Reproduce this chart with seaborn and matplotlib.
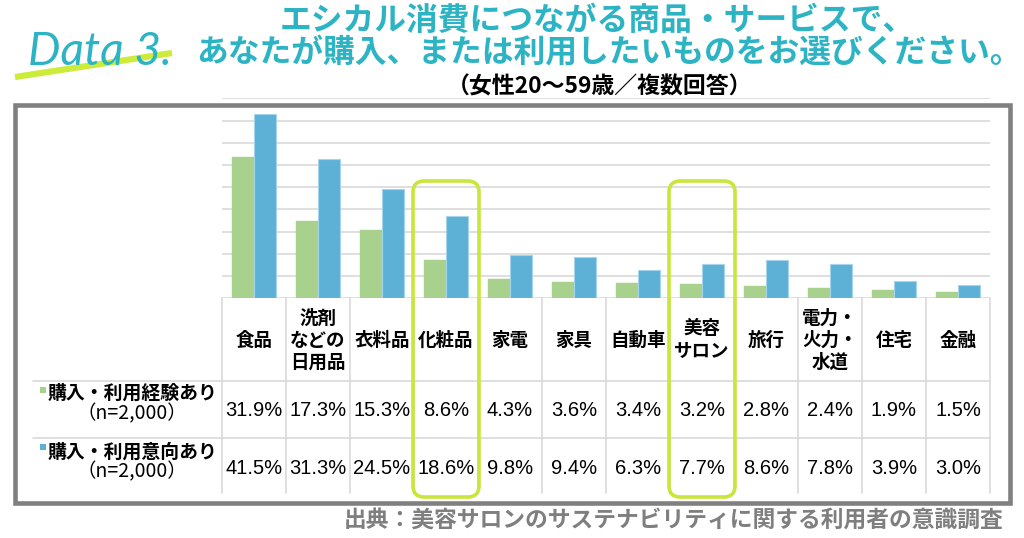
import numpy as np
import pandas as pd
import matplotlib
matplotlib.use("Agg")
import matplotlib.pyplot as plt
import matplotlib.transforms as mtransforms
from matplotlib.lines import Line2D
from matplotlib.patches import Rectangle, FancyBboxPatch
import seaborn as sns

# ---------------- data ----------------
categories = ['食品', '洗剤\nなどの\n日用品', '衣料品', '化粧品', '家電', '家具', '自動車',
              '美容\nサロン', '旅行', '電力・\n火力・\n水道', '住宅', '金融']
experience = [31.9, 17.3, 15.3, 8.6, 4.3, 3.6, 3.4, 3.2, 2.8, 2.4, 1.9, 1.5]
intention = [41.5, 31.3, 24.5, 18.6, 9.8, 9.4, 6.3, 7.7, 8.6, 7.8, 3.9, 3.0]
series_names = ['購入・利用経験あり', '購入・利用意向あり']
sample_label = '（n=2,000）'
highlighted = ['化粧品', '美容\nサロン']
title_lines = ['エシカル消費につながる商品・サービスで、',
               'あなたが購入、または利用したいものをお選びください。']
subtitle = '（女性20～59歳／複数回答）'
badge = 'Data 3.'
source = '出典：美容サロンのサステナビリティに関する利用者の意識調査'

GREEN = '#A9D18E'
BLUE = '#5DB1D7'
TEAL = '#2DB4C4'
LIME = '#C8E63C'
GRID = '#D9D9D9'

sns.set_theme(style='white')
plt.rcParams['font.family'] = ['Noto Sans CJK JP', 'DejaVu Sans']

W, H = 1024, 538
fig = plt.figure(figsize=(W / 100, H / 100), dpi=100)
fig.patch.set_facecolor('white')


def fx(px):
    return px / W


def fy(py):
    return 1 - py / H


# axes: 0% at y=298.3px, 45% at y=98.4px
ax = fig.add_axes([fx(222), fy(298.3), fx(990) - fx(222), fy(98.4) - fy(298.3)])

df = pd.DataFrame({
    'category': categories * 2,
    'value': experience + intention,
    'series': [series_names[0]] * len(categories) + [series_names[1]] * len(categories),
})
sns.barplot(data=df, x='category', y='value', hue='series', order=categories,
            hue_order=series_names, palette=[GREEN, BLUE], width=0.68,
            saturation=1, errorbar=None, legend=False, ax=ax, zorder=3)

for p in ax.patches:
    fc = matplotlib.colors.to_hex(p.get_facecolor())
    if fc.lower() == BLUE.lower():
        p.set_edgecolor('#A5D5EC')
        p.set_linewidth(0.8)
    else:
        p.set_edgecolor(GREEN)
        p.set_linewidth(0.3)

ax.set_xlim(-0.5, len(categories) - 0.5)
ax.set_ylim(0, 45)
ax.set_yticks(np.arange(0, 46, 5))
ax.yaxis.grid(True, color=GRID, lw=1.2)
ax.xaxis.grid(False)
ax.set_axisbelow(True)
ax.tick_params(left=False, bottom=False, labelleft=False, labelbottom=False)
ax.set_xlabel('')
ax.set_ylabel('')
for s in ax.spines.values():
    s.set_visible(False)
ax.patch.set_alpha(0)

# ---------------- table ----------------
trans = mtransforms.blended_transform_factory(ax.transData, fig.transFigure)
n = len(categories)
for k in range(n + 1):
    xd = k - 0.5
    fig.add_artist(Line2D([xd, xd], [fy(298.3), fy(493)], transform=trans,
                          color=GRID, lw=1.2, zorder=2))
x_right = ax.get_position().x1
for py in (381, 438):
    fig.add_artist(Line2D([fx(33), x_right], [fy(py), fy(py)],
                          transform=fig.transFigure, color=GRID, lw=1.2, zorder=2))

num_family = ['Liberation Sans', 'DejaVu Sans']
for i, cat in enumerate(categories):
    fig.text(i, fy(340), cat, transform=trans, ha='center', va='center',
             fontsize=13.3, fontweight='bold', color='black', linespacing=1.2)
    fig.text(i, fy(411), f'{experience[i]:.1f}%', transform=trans, ha='center',
             va='center', fontsize=14.5, color='black', family=num_family)
    fig.text(i, fy(468), f'{intention[i]:.1f}%', transform=trans, ha='center',
             va='center', fontsize=14.5, color='black', family=num_family)

# row labels
for (py_lab, py_n, py_sq, color, name) in [(393, 414, 387, GREEN, series_names[0]),
                                           (452, 472, 444, BLUE, series_names[1])]:
    fig.add_artist(Rectangle((fx(39.5), fy(py_sq + 6)), fx(6), fy(0) - fy(6),
                             transform=fig.transFigure, color=color, lw=0))
    fig.text(fx(48), fy(py_lab), name, ha='left', va='center', fontsize=13.6,
             fontweight='bold', color='black')
    fig.text(fx(132), fy(py_n), sample_label, ha='center', va='center',
             fontsize=14, color='black')

# highlight boxes (computed from data positions)
fig.canvas.draw()
for cat in highlighted:
    i = categories.index(cat)
    x0 = ax.transData.transform((i - 0.5, 0))[0] - 1
    x1 = ax.transData.transform((i + 0.5, 0))[0] + 1
    y_top = H - 181
    y_bot = H - 497
    box = FancyBboxPatch((x0, y_bot), x1 - x0, y_top - y_bot,
                         boxstyle='round,pad=0,rounding_size=11',
                         transform=mtransforms.IdentityTransform(),
                         fill=False, edgecolor=LIME, lw=2.6, zorder=10)
    fig.add_artist(box)

# outer frame
fig.add_artist(Rectangle((fx(14.5), fy(503)), fx(1010) - fx(14.5), fy(105) - fy(503),
                         transform=fig.transFigure, fill=False, edgecolor='#808080',
                         lw=3.3, zorder=11))

# ---------------- titles ----------------
fig.text(fx(280), fy(21), title_lines[0], ha='left', va='center', fontsize=22.9,
         fontweight='bold', color=TEAL)
fig.text(fx(196), fy(53), title_lines[1], ha='left', va='center', fontsize=22.9,
         fontweight='bold', color=TEAL)
fig.text(fx(600), fy(87), subtitle, ha='center', va='center', fontsize=16.5,
         fontweight='bold', color='black')

# badge
fig.add_artist(Line2D([fx(15), fx(172)], [fy(77), fy(53)], transform=fig.transFigure,
                      color='#CDEB3A', lw=4.5, solid_capstyle='butt', zorder=1))
fig.text(fx(28), fy(65), badge, ha='left', va='baseline', fontsize=33,
         fontstyle='italic', fontweight='normal', color=TEAL,
         family=['Lato', 'DejaVu Sans'], zorder=2)

# source
fig.text(fx(1003), fy(521), source, ha='right', va='center', fontsize=16.4,
         fontweight='bold', color='#7F7F7F')

fig.savefig('out.png', dpi=100, facecolor='white')
